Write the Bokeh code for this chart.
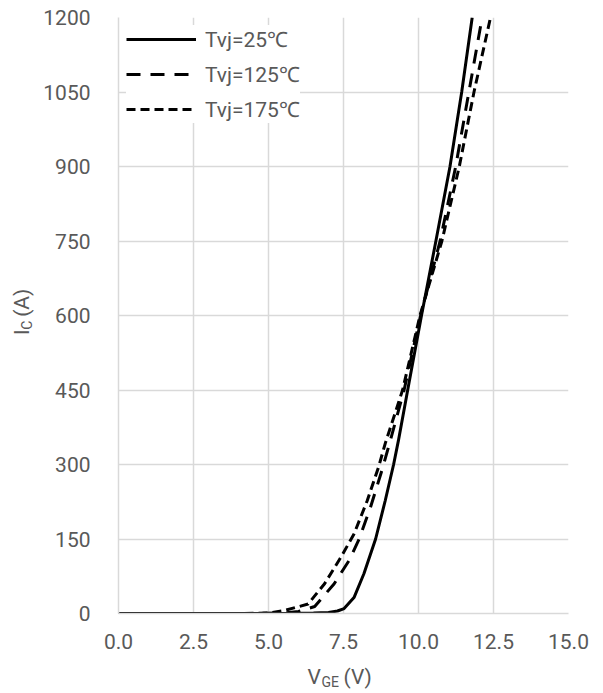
import math
from bokeh.plotting import figure
from bokeh.layouts import column, row
from bokeh.models import Range1d, FixedTicker, Legend, LegendItem, NumeralTickFormatter
from bokeh.core.properties import value
from bokeh.embed import file_html
from bokeh.resources import INLINE

# ---- data ----
vge_25 = [0.0, 5.0, 6.0, 6.5, 7.0, 7.3, 7.52, 7.85, 8.18, 8.57, 8.89, 9.17, 9.33, 9.64, 10.1, 10.58, 11.05, 11.44, 11.79]
ic_25 = [0, 0, 0.3, 1, 2, 5, 10, 32, 80, 150, 227, 300, 348, 450, 600, 750, 900, 1050, 1200]

vge_125 = [0.0, 4.5, 5.5, 6.0, 6.54, 7.19, 7.69, 8.02, 8.40, 8.78, 9.0, 9.52, 10.07, 10.72, 11.24, 11.68, 12.12]
ic_125 = [0, 0, 1, 4, 14, 60, 107, 150, 214, 288, 335, 450, 600, 750, 900, 1050, 1200]

vge_175 = [0.0, 4.0, 5.0, 5.53, 6.32, 6.87, 7.41, 7.85, 8.29, 8.67, 8.89, 9.47, 10.05, 10.78, 11.36, 11.85, 12.40]
ic_175 = [0, 0, 1, 6, 19, 60, 113, 160, 227, 295, 342, 450, 600, 750, 900, 1050, 1200]

x_ticks = [0, 2.5, 5, 7.5, 10, 12.5, 15]
y_ticks = [0, 150, 300, 450, 600, 750, 900, 1050, 1200]
series_names = ["Tvj=25℃", "Tvj=125℃", "Tvj=175℃"]

FONT = "Roboto"
TXT = "#595959"
GRID = "#d9d9d9"
FS = "21px"
FS_SUB = "14px"

# ---- main chart ----
p = figure(width=563, height=653, output_backend="svg", toolbar_location=None,
           x_range=Range1d(0, 15), y_range=Range1d(0, 1200),
           min_border_left=71, min_border_right=35, min_border_top=17, min_border_bottom=40)
p.outline_line_color = None

p.xaxis.ticker = FixedTicker(ticks=x_ticks)
p.yaxis.ticker = FixedTicker(ticks=y_ticks)
p.xaxis.formatter = NumeralTickFormatter(format="0.0")
p.yaxis.formatter = NumeralTickFormatter(format="0")
for ax in (p.xaxis, p.yaxis):
    ax.major_tick_line_color = None
    ax.minor_tick_line_color = None
    ax.axis_line_color = GRID
    ax.axis_line_width = 1.5
    ax.major_label_text_font = FONT
    ax.major_label_text_font_size = FS
    ax.major_label_text_color = TXT
p.xaxis.major_label_standoff = 14
p.yaxis.major_label_standoff = 22

p.xgrid.ticker = FixedTicker(ticks=x_ticks)
p.ygrid.ticker = FixedTicker(ticks=y_ticks)
p.grid.grid_line_color = GRID
p.grid.grid_line_width = 1.5

r25 = p.line(vge_25, ic_25, line_color="black", line_width=3)
r125 = p.line(vge_125, ic_125, line_color="black", line_width=3, line_dash="14 10")
r175 = p.line(vge_175, ic_175, line_color="black", line_width=3, line_dash="9 5")

legend = Legend(items=[LegendItem(label=series_names[0], renderers=[r25]),
                       LegendItem(label=series_names[1], renderers=[r125]),
                       LegendItem(label=series_names[2], renderers=[r175])],
                location="top_left", margin=8, padding=14, spacing=7,
                glyph_width=70, glyph_height=24, label_standoff=9,
                label_text_font=FONT, label_text_font_size=FS, label_text_color=TXT,
                border_line_color=None, background_fill_color="white", background_fill_alpha=1.0)
p.add_layout(legend, "center")

# ---- y-axis title panel: I_C (A) ----
yt = figure(width=40, height=653, output_backend="svg", toolbar_location=None,
            x_range=Range1d(0, 40), y_range=Range1d(0, 653),
            x_axis_type=None, y_axis_type=None, min_border=0)
yt.outline_line_color = None
yt.grid.visible = False
common = dict(text_font=value(FONT), text_color=TXT, angle=math.pi / 2,
              text_align="left", text_baseline="middle")
yt.text(x=[21], y=[305], text=["I"], text_font_size=FS, **common)
yt.text(x=[26], y=[311], text=["C"], text_font_size=FS_SUB, **common)
yt.text(x=[21], y=[325], text=["(A)"], text_font_size=FS, **common)

# ---- x-axis title panel: V_GE (V) ----
xt = figure(width=603, height=40, output_backend="svg", toolbar_location=None,
            x_range=Range1d(0, 603), y_range=Range1d(0, 40),
            x_axis_type=None, y_axis_type=None, min_border=0)
xt.outline_line_color = None
xt.grid.visible = False
common_x = dict(text_font=value(FONT), text_color=TXT, text_align="left", text_baseline="middle")
xt.text(x=[307], y=[17], text=["V"], text_font_size=FS, **common_x)
xt.text(x=[321], y=[12], text=["GE"], text_font_size=FS_SUB, **common_x)
xt.text(x=[343], y=[17], text=["(V)"], text_font_size=FS, **common_x)

layout = column(row(yt, p, spacing=0), xt, spacing=0)
open("out.html", "w").write(file_html(layout, INLINE))
